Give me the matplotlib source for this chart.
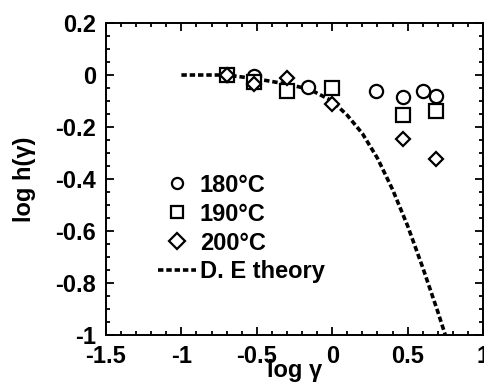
import matplotlib
matplotlib.use('Agg')
import matplotlib.pyplot as plt
from matplotlib.ticker import MultipleLocator, FuncFormatter

# Data
x_180 = [-0.70, -0.52, -0.16, 0.29, 0.47, 0.60, 0.69]
y_180 = [0.0, -0.005, -0.047, -0.063, -0.083, -0.062, -0.080]

x_190 = [-0.70, -0.52, -0.30, 0.0, 0.47, 0.69]
y_190 = [0.0, -0.026, -0.060, -0.051, -0.154, -0.140]

x_200 = [-0.70, -0.52, -0.30, 0.0, 0.47, 0.69]
y_200 = [0.0, -0.035, -0.010, -0.110, -0.245, -0.325]

x_theory = [-1.0, -0.7, -0.5, -0.3, -0.15, 0.0, 0.1, 0.2, 0.3, 0.4, 0.5, 0.6, 0.7, 0.75]
y_theory = [0.0, 0.0, -0.015, -0.035, -0.055, -0.10, -0.155, -0.225, -0.32, -0.44, -0.58, -0.74, -0.91, -1.0]

plt.rcParams['font.family'] = ['Liberation Sans', 'DejaVu Sans']
plt.rcParams['font.weight'] = 'bold'
fs = 17

fig = plt.figure(figsize=(4.85, 3.89), dpi=100)
ax = fig.add_axes([106/485, 1 - 335/389, 377/485, 312/389])

ax.plot(x_theory, y_theory, color='black', linestyle=(0, (1.5, 0.8)), lw=2.6,
        label='D. E theory', zorder=2)
ax.plot(x_180, y_180, linestyle='none', marker='o', ms=9.5, mfc='white', mec='black',
        mew=1.6, label='180\u00b0C', zorder=3)
ax.plot(x_190, y_190, linestyle='none', marker='s', ms=9.5, mfc='white', mec='black',
        mew=1.6, label='190\u00b0C', zorder=3)
ax.plot(x_200, y_200, linestyle='none', marker='D', ms=7.5, mfc='white', mec='black',
        mew=1.6, label='200\u00b0C', zorder=3)

ax.set_xlim(-1.5, 1)
ax.set_ylim(-1, 0.2)
ax.xaxis.set_major_locator(MultipleLocator(0.5))
ax.xaxis.set_minor_locator(MultipleLocator(0.1))
ax.yaxis.set_major_locator(MultipleLocator(0.2))
ax.yaxis.set_minor_locator(MultipleLocator(0.05))

fmt = FuncFormatter(lambda v, p: '%g' % round(v, 2) if abs(v) > 1e-9 else '0')
ax.xaxis.set_major_formatter(fmt)
ax.yaxis.set_major_formatter(fmt)

ax.tick_params(which='both', direction='in', top=True, right=True, width=1.3)
ax.tick_params(which='major', length=6, labelsize=fs, pad=7)
ax.tick_params(which='minor', length=3)
for s in ax.spines.values():
    s.set_linewidth(1.4)

ax.set_xlabel('log \u03b3', fontsize=fs, fontweight='bold', labelpad=-6)
ax.set_ylabel('log h(\u03b3)', fontsize=fs, fontweight='bold', labelpad=14)

handles, labels = ax.get_legend_handles_labels()
order = [1, 2, 3, 0]
leg = ax.legend([handles[i] for i in order], [labels[i] for i in order],
                loc='lower left', bbox_to_anchor=(0.114, 0.135), frameon=False,
                fontsize=fs, handlelength=1.6, handletextpad=0.15,
                labelspacing=0.25, borderaxespad=0)
for h in leg.legend_handles[:3]:
    h.set_markersize(8)

fig.savefig('out.png', dpi=100)
